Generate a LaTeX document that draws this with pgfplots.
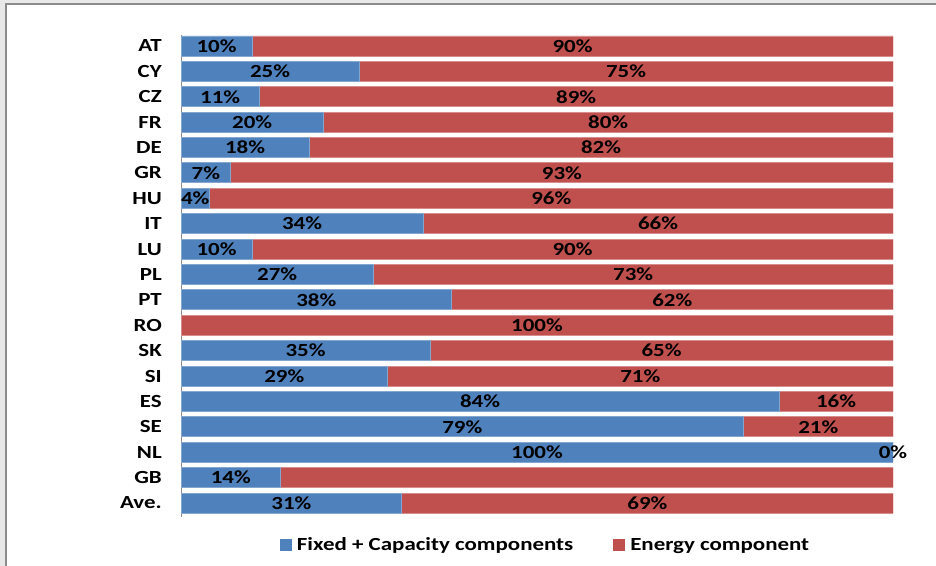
\documentclass[border=0pt]{standalone}
\usepackage{pgfplots}
\pgfplotsset{compat=1.18}
\usepackage{fontspec}
\setmainfont{Carlito}[FakeStretch=1.24]
\definecolor{barblue}{HTML}{4F81BD}
\definecolor{barred}{HTML}{C0504D}
\newcommand\lblfont{\fontsize{18.5bp}{20bp}\selectfont\bfseries}

\begin{document}
\begin{tikzpicture}
% frame of the original picture
\fill[black!9] (0,0) rectangle (936bp,566bp);
\fill[white] (6.5bp,0) rectangle (936bp,561bp);
\draw[black!45, line width=1.5bp] (5.75bp,0) -- (5.75bp,561.75bp) -- (936bp,561.75bp);

\pgfplotsset{
  common/.style={at={(181bp,49bp)}, anchor=south west, scale only axis,
    width=712bp, height=482bp, xmin=0, xmax=100, ymin=-0.43, ymax=18.55,
    y dir=reverse},
}

\begin{axis}[common, xbar stacked, bar width=20bp,
  axis x line=none, axis y line*=left,
  y axis line style={black!45, line width=1bp},
  ytick={0,...,18},
  yticklabels={AT,CY,CZ,FR,DE,GR,HU,IT,LU,PL,PT,RO,SK,SI,ES,SE,NL,GB,Ave.},
  major tick length=0pt,
  yticklabel style={font=\lblfont, inner sep=0pt, xshift=-19bp},
  legend columns=2,
  legend style={at={(0.512,-0.058)}, anchor=center, draw=none, fill=none,
    font=\lblfont,
    /tikz/every odd column/.append style={column sep=3bp},
    /tikz/every even column/.append style={column sep=38bp}},
  legend image code/.code={\path[#1, draw=none] (0bp,-6bp) rectangle (12bp,6bp);},
]
\addplot[fill=barblue, draw=barblue!70!white, line width=0.8bp] coordinates {
  (10,0) (25,1) (11,2) (20,3) (18,4) (7,5) (4,6) (34,7) (10,8) (27,9)
  (38,10) (0,11) (35,12) (29,13) (84,14) (79,15) (100,16) (14,17) (31,18)
};
\addplot[fill=barred, draw=barred!65!white, line width=0.8bp] coordinates {
  (90,0) (75,1) (89,2) (80,3) (82,4) (93,5) (96,6) (66,7) (90,8) (73,9)
  (62,10) (100,11) (65,12) (71,13) (16,14) (21,15) (0,16) (86,17) (69,18)
};
\legend{Fixed + Capacity components, Energy component}
\end{axis}

% value labels, centred in their segments
\begin{axis}[common, hide axis]
\addplot[draw=none, mark=none,
  nodes near coords={\pgfplotspointmeta\%}, point meta=explicit symbolic,
  nodes near coords align=center,
  every node near coord/.append style={anchor=center, font=\lblfont, text=black, inner sep=0pt}]
  table[meta=lab] {
x y lab
5 0 10
55 0 90
12.5 1 25
62.5 1 75
5.5 2 11
55.5 2 89
10 3 20
60 3 80
9 4 18
59 4 82
3.5 5 7
53.5 5 93
2 6 4
52 6 96
17 7 34
67 7 66
5 8 10
55 8 90
13.5 9 27
63.5 9 73
19 10 38
69 10 62
50 11 100
17.5 12 35
67.5 12 65
14.5 13 29
64.5 13 71
42 14 84
92 14 16
39.5 15 79
89.5 15 21
50 16 100
100 16 0
7 17 14
15.5 18 31
65.5 18 69
};
\end{axis}
\pgfresetboundingbox
\path[use as bounding box] (0,0) rectangle (936bp,566bp);
\end{tikzpicture}
\end{document}
